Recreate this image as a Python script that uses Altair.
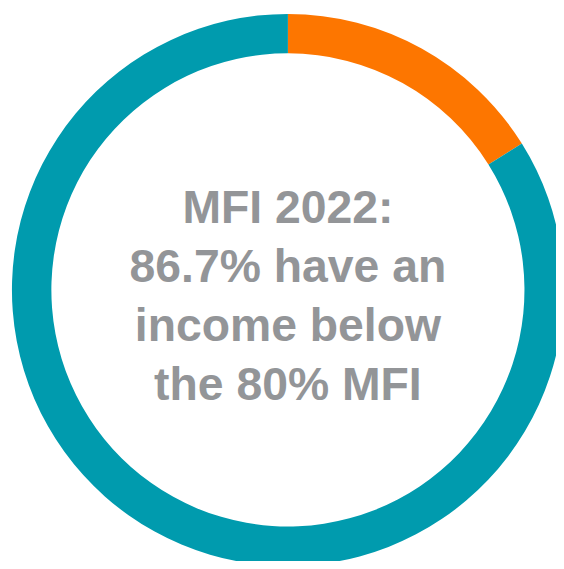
import altair as alt
import pandas as pd

categories = ["Above 80% MFI", "Below 80% MFI"]
values = [16.1, 83.9]
colors = ["#fd7600", "#009bae"]
order = [0, 1]
label_lines = ["MFI 2022:", "86.7% have an", "income below", "the 80% MFI"]

df = pd.DataFrame({"category": categories, "value": values, "order": order})

W, H = 556, 553
cx, cy = 284, 282

arc = alt.Chart(df).mark_arc(radius=280, radius2=240, stroke=None).encode(
    theta=alt.Theta("value:Q", stack=True),
    order=alt.Order("order:Q"),
    color=alt.Color("category:N", scale=alt.Scale(domain=categories, range=colors), legend=None),
    x=alt.value(cx),
    y=alt.value(cy),
)

text = alt.Chart(pd.DataFrame({"t": [label_lines]})).mark_text(
    font="Liberation Sans, Arial, sans-serif",
    fontWeight="bold",
    fontSize=47,
    lineHeight=60,
    color="#939598",
    align="center",
    baseline="alphabetic",
).encode(
    text="t",
    x=alt.value(cx),
    y=alt.value(214),
)

chart = alt.layer(arc, text).properties(
    width=W, height=H, autosize=alt.AutoSizeParams(type="none"), padding=0
).configure_view(stroke=None)

chart.save("out.html", embed_options={"renderer": "svg", "actions": False})
